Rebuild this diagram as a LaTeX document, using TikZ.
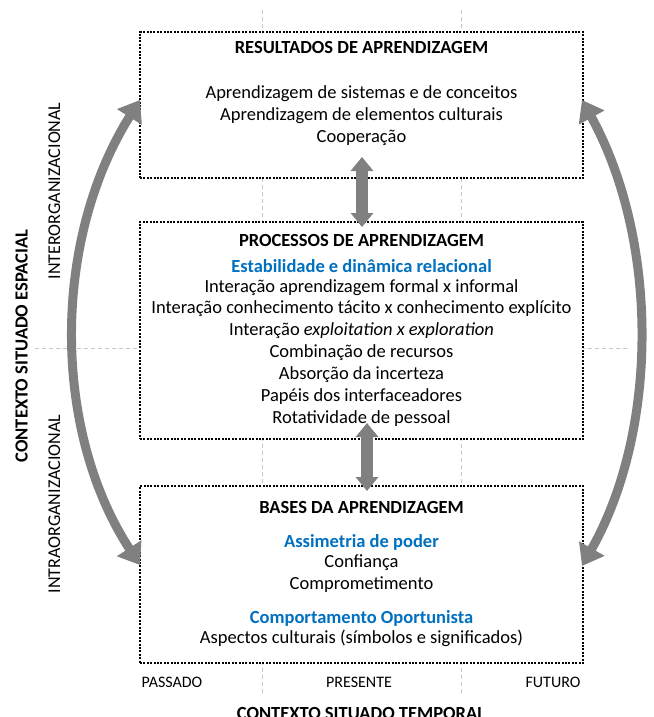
\documentclass[tikz,border=0pt]{standalone}
\usepackage{fontspec}
\setmainfont{Carlito}
\usetikzlibrary{arrows.meta}

\definecolor{cinzaseta}{RGB}{128,128,128}
\definecolor{azul}{RGB}{0,112,192}
\definecolor{cinzagrade}{RGB}{200,200,200}

\tikzset{
  caixa/.style={draw, fill=white, line width=1.1pt, dash pattern=on 2pt off 1.4pt, minimum width=443pt},
  grade/.style={draw=cinzagrade, line width=0.8pt, dash pattern=on 4pt off 3pt},
  setagrande/.style={draw=cinzaseta, line width=9pt, {Triangle[width=28pt,length=20pt]}-{Triangle[width=28pt,length=20pt]}},
  setacurta/.style={draw=cinzaseta, line width=12pt, {Triangle[width=22pt,length=14pt]}-{Triangle[width=22pt,length=14pt]}},
  linha/.style={anchor=base, font=\fontsize{18.5}{22}\selectfont},
  titulo/.style={linha, font=\fontsize{18.5}{22}\selectfont\bfseries},
  destaque/.style={titulo, text=azul},
  tempo/.style={anchor=base, font=\fontsize{16}{19}\selectfont},
  espaco/.style={anchor=base, rotate=90, font=\fontsize{18}{22}\selectfont},
}

\begin{document}
\begin{tikzpicture}[x=1pt, y=-1pt, every node/.style={inner sep=0pt}]
  \useasboundingbox (0,0) rectangle (653,717);

  % grade tempo x espaco
  \draw[grade] (262,10) -- (262,695);
  \draw[grade] (461,10) -- (461,695);
  \draw[grade] (35,348) -- (628,348);

  % caixas
  \node[caixa, minimum height=146pt] (res) at (361.5,105) {};
  \node[caixa, minimum height=217pt] (proc) at (361.5,330.5) {};
  \node[caixa, minimum height=177pt] (bas) at (361.5,574.5) {};

  % resultados
  \node[titulo] (resT) at (361.5,53) {RESULTADOS DE APRENDIZAGEM};
  \node[linha] (res1) at (361.5,98) {Aprendizagem de sistemas e de conceitos};
  \node[linha] (res2) at (361.5,120) {Aprendizagem de elementos culturais};
  \node[linha] (res3) at (361.5,142) {Cooperação};

  % processos
  \node[titulo] (procT) at (361.5,246) {PROCESSOS DE APRENDIZAGEM};
  \node[destaque] (procD) at (361.5,272) {Estabilidade e dinâmica relacional};
  \node[linha] (proc1) at (361.5,292) {Interação aprendizagem formal x informal};
  \node[linha] (proc2) at (361.5,313) {Interação conhecimento tácito x conhecimento explícito};
  \node[linha] (proc3) at (361.5,335) {Interação \emph{exploitation x exploration}};
  \node[linha] (proc4) at (361.5,357) {Combinação de recursos};
  \node[linha] (proc5) at (361.5,379) {Absorção da incerteza};
  \node[linha] (proc6) at (361.5,401) {Papéis dos interfaceadores};
  \node[linha] (proc7) at (361.5,423) {Rotatividade de pessoal};

  % bases
  \node[titulo] (basT) at (361.5,513) {BASES DA APRENDIZAGEM};
  \node[destaque] (basD1) at (361.5,547) {Assimetria de poder};
  \node[linha] (bas1) at (361.5,567) {Confiança};
  \node[linha] (bas2) at (361.5,589) {Comprometimento};
  \node[destaque] (basD2) at (361.5,623) {Comportamento Oportunista};
  \node[linha] (bas3) at (361.5,643) {Aspectos culturais (símbolos e significados)};

  % eixo temporal
  \node[tempo] (passado) at (172,687) {PASSADO};
  \node[tempo] (presente) at (359,687) {PRESENTE};
  \node[tempo] (futuro) at (553,687) {FUTURO};
  \node[titulo] (temporal) at (361,719) {CONTEXTO SITUADO TEMPORAL};

  % eixo espacial
  \node[espaco, font=\fontsize{18.5}{22}\selectfont\bfseries] (espacial) at (27.5,346) {CONTEXTO SITUADO ESPACIAL};
  \node[espaco] (inter) at (60,191) {INTERORGANIZACIONAL};
  \node[espaco] (intra) at (60,504) {INTRAORGANIZACIONAL};

  % setas
  \coordinate (resW) at (140,100);
  \coordinate (basW) at (140,565);
  \coordinate (resE) at (582,100);
  \coordinate (basE) at (582,566);
  \coordinate (resS) at (362,157);
  \coordinate (procN) at (362,227);
  \coordinate (procS) at (367,423);
  \coordinate (basN) at (367,491);

  \draw[setagrande] (resW) .. controls (52,240) and (52,430) .. (basW);
  \draw[setagrande] (resE) .. controls (659,240) and (659,430) .. (basE);
  \draw[setacurta] (resS) -- (procN);
  \draw[setacurta] (procS) -- (basN);
\end{tikzpicture}
\end{document}
